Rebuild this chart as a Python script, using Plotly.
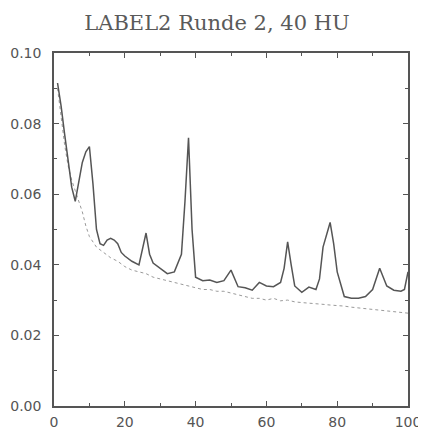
import plotly.graph_objects as go

title_text = "LABEL2 Runde 2, 40 HU"

solid_x = [1, 2, 3, 4, 5, 6, 7, 8, 9, 10, 11, 12, 13, 14, 15, 16, 17, 18, 19, 20,
           22, 24, 26, 27, 28, 30, 32, 34, 36, 37, 38, 39, 40, 42, 44, 46, 48, 50,
           51, 52, 54, 56, 58, 60, 62, 64, 65, 66, 67, 68, 70, 72, 74, 75, 76, 78,
           79, 80, 82, 84, 86, 88, 90, 92, 94, 96, 98, 99, 100]
solid_y = [0.0915, 0.085, 0.077, 0.069, 0.062, 0.058, 0.063, 0.069, 0.072, 0.0735,
           0.063, 0.050, 0.046, 0.0455, 0.047, 0.0475, 0.047, 0.046, 0.0435, 0.0425,
           0.041, 0.040, 0.049, 0.043, 0.0405, 0.039, 0.0375, 0.038, 0.043, 0.058,
           0.076, 0.050, 0.0365, 0.0355, 0.0357, 0.035, 0.0355, 0.0385, 0.036, 0.0338,
           0.0335, 0.0328, 0.035, 0.034, 0.0338, 0.035, 0.039, 0.0465, 0.040, 0.034,
           0.0322, 0.0337, 0.033, 0.036, 0.045, 0.052, 0.046, 0.038, 0.031, 0.0305,
           0.0305, 0.031, 0.033, 0.039, 0.034, 0.0328, 0.0325, 0.033, 0.038]

dotted_x = [1, 2, 3, 4, 5, 6, 7, 8, 9, 10, 12, 14, 16, 18, 20, 22, 24, 26, 28, 30,
            32, 34, 36, 38, 40, 42, 44, 46, 48, 50, 52, 54, 56, 58, 60, 62, 64, 66,
            68, 70, 72, 74, 76, 78, 80, 82, 84, 86, 88, 90, 92, 94, 96, 98, 100]
dotted_y = [0.090, 0.082, 0.074, 0.068, 0.064, 0.061, 0.058, 0.055, 0.051, 0.048,
            0.045, 0.0435, 0.042, 0.041, 0.0395, 0.0385, 0.038, 0.0375, 0.0365, 0.036,
            0.0355, 0.035, 0.0345, 0.034, 0.0335, 0.033, 0.033, 0.0325, 0.0325, 0.032,
            0.0315, 0.031, 0.0305, 0.0305, 0.030, 0.0305, 0.0298, 0.030, 0.0295, 0.0293,
            0.0292, 0.029, 0.0288, 0.0286, 0.0285, 0.0283, 0.028, 0.0278, 0.0275, 0.0275,
            0.0272, 0.027, 0.0268, 0.0265, 0.0263]

x_ticks = [0, 20, 40, 60, 80, 100]
y_ticks = [0.00, 0.02, 0.04, 0.06, 0.08, 0.10]
y_tick_labels = ["0.00", "0.02", "0.04", "0.06", "0.08", "0.10"]

fig = go.Figure()
fig.add_trace(go.Scatter(x=dotted_x, y=dotted_y, mode="lines",
                         line=dict(color="#9a9a9a", width=1, dash="dot"),
                         showlegend=False, hoverinfo="skip"))
fig.add_trace(go.Scatter(x=solid_x, y=solid_y, mode="lines",
                         line=dict(color="#555555", width=1.5),
                         showlegend=False, hoverinfo="skip"))

axis_common = dict(
    showline=True, linecolor="#555555", linewidth=1.5, mirror="allticks",
    ticks="inside", ticklen=5, tickwidth=1.2, tickcolor="#555555",
    showgrid=False, zeroline=False, automargin=False,
    tickfont=dict(family="DejaVu Sans", size=14, color="#555555"),
)

# the page body adds an 8px offset, so the figure is 8px smaller and margins shifted
fig.update_layout(
    width=418, height=426,
    margin=dict(l=46, r=18, t=45, b=28),
    paper_bgcolor="white", plot_bgcolor="white",
    title=dict(text=title_text, x=0.5, xanchor="center", y=0.965, yanchor="middle",
               font=dict(family="DejaVu Serif", size=21, color="#5a5a5a")),
    xaxis=dict(range=[0, 100], tickvals=x_ticks, ticklabelstandoff=2,
               minor=dict(ticks="inside", ticklen=3, tickcolor="#555555", dtick=10, tick0=0),
               **axis_common),
    yaxis=dict(range=[0, 0.10], tickvals=y_ticks, ticktext=y_tick_labels,
               ticklabelstandoff=8,
               minor=dict(ticks="inside", ticklen=3, tickcolor="#555555", dtick=0.01, tick0=0),
               **axis_common),
)

fig.write_html("out.html")
